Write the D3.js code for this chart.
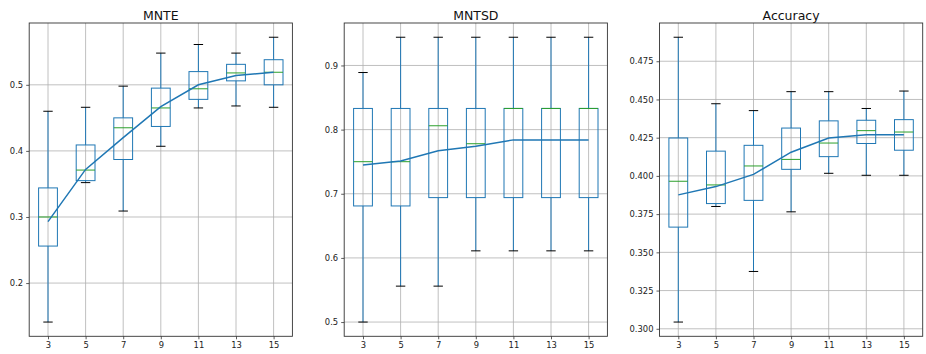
<!DOCTYPE html>
<html>
<head>
<meta charset="utf-8">
<script src="https://cdn.jsdelivr.net/npm/d3@7"></script>
<style>
  html, body { margin: 0; padding: 0; background: #fff; }
  svg { display: block; font-family: "DejaVu Sans", sans-serif; }
</style>
</head>
<body>
<svg id="chart" width="926" height="354"></svg>
<script>
// Window sizes shared by every panel
const categories = [3, 5, 7, 9, 11, 13, 15];

// MNTE box statistics per window size
const mnteWhiskerHigh = [0.460, 0.466, 0.498, 0.548, 0.561, 0.548, 0.572];
const mnteQ3          = [0.344, 0.409, 0.450, 0.495, 0.520, 0.531, 0.538];
const mnteMedian      = [0.300, 0.371, 0.435, 0.465, 0.494, 0.518, 0.519];
const mnteQ1          = [0.256, 0.355, 0.387, 0.437, 0.478, 0.506, 0.500];
const mnteWhiskerLow  = [0.141, 0.352, 0.309, 0.407, 0.465, 0.468, 0.466];
const mnteMean        = [0.293, 0.372, 0.420, 0.467, 0.500, 0.514, 0.519];
const mnteTicks       = [0.2, 0.3, 0.4, 0.5];

// MNTSD box statistics per window size
const mntsdWhiskerHigh = [0.889, 0.944, 0.944, 0.944, 0.944, 0.944, 0.944];
const mntsdQ3          = [0.833, 0.833, 0.833, 0.833, 0.833, 0.833, 0.833];
const mntsdMedian      = [0.750, 0.750, 0.806, 0.778, 0.833, 0.833, 0.833];
const mntsdQ1          = [0.681, 0.681, 0.694, 0.694, 0.694, 0.694, 0.694];
const mntsdWhiskerLow  = [0.500, 0.556, 0.556, 0.611, 0.611, 0.611, 0.611];
const mntsdMean        = [0.745, 0.751, 0.767, 0.774, 0.784, 0.784, 0.784];
const mntsdTicks       = [0.5, 0.6, 0.7, 0.8, 0.9];

// Accuracy box statistics per window size
const accWhiskerHigh = [0.4907, 0.4472, 0.4427, 0.4551, 0.4551, 0.4441, 0.4555];
const accQ3          = [0.4248, 0.4162, 0.4200, 0.4313, 0.4360, 0.4364, 0.4368];
const accMedian      = [0.3965, 0.3941, 0.4065, 0.4108, 0.4215, 0.4296, 0.4287];
const accQ1          = [0.3665, 0.3819, 0.3840, 0.4043, 0.4126, 0.4212, 0.4168];
const accWhiskerLow  = [0.3044, 0.3800, 0.3375, 0.3765, 0.4017, 0.4004, 0.4004];
const accMean        = [0.3876, 0.3930, 0.4010, 0.4155, 0.4248, 0.4269, 0.4269];
const accTicks       = [0.300, 0.325, 0.350, 0.375, 0.400, 0.425, 0.450, 0.475];

const panels = [
  { title: "MNTE", hi: mnteWhiskerHigh, q3: mnteQ3, med: mnteMedian, q1: mnteQ1, lo: mnteWhiskerLow, mean: mnteMean, ticks: mnteTicks, fmt: ".1f", left: 29.2 },
  { title: "MNTSD", hi: mntsdWhiskerHigh, q3: mntsdQ3, med: mntsdMedian, q1: mntsdQ1, lo: mntsdWhiskerLow, mean: mntsdMean, ticks: mntsdTicks, fmt: ".1f", left: 344.2 },
  { title: "Accuracy", hi: accWhiskerHigh, q3: accQ3, med: accMedian, q1: accQ1, lo: accWhiskerLow, mean: accMean, ticks: accTicks, fmt: ".3f", left: 659.5 }
];

const axW = 263.2, axTop = 23, axBottom = 336.3;
const blue = "#1f77b4", green = "#2ca02c", gridColor = "#b0b0b0", spine = "#333";
const tickFont = 8.4;

const svg = d3.select("#chart");

panels.forEach(p => {
  const x = d3.scalePoint().domain(categories).range([p.left, p.left + axW]).padding(0.5);
  const step = x.step();
  const boxW = step * 0.5, capW = boxW * 0.5;

  // y-limits padded by 5% of the data span
  const lo = d3.min([...p.lo, ...p.mean]), hi = d3.max([...p.hi, ...p.mean]);
  const pad = (hi - lo) * 0.05;
  const y = d3.scaleLinear().domain([lo - pad, hi + pad]).range([axBottom, axTop]);

  const g = svg.append("g");

  // grid
  g.append("g").selectAll("line").data(p.ticks).join("line")
    .attr("x1", p.left).attr("x2", p.left + axW)
    .attr("y1", d => y(d)).attr("y2", d => y(d))
    .attr("stroke", gridColor).attr("stroke-width", 0.8);
  g.append("g").selectAll("line").data(categories).join("line")
    .attr("x1", d => x(d)).attr("x2", d => x(d))
    .attr("y1", axTop).attr("y2", axBottom)
    .attr("stroke", gridColor).attr("stroke-width", 0.8);

  const idx = d3.range(categories.length);
  const boxes = g.append("g").selectAll("g").data(idx).join("g");

  // whiskers
  boxes.append("line")
    .attr("x1", i => x(categories[i])).attr("x2", i => x(categories[i]))
    .attr("y1", i => y(p.q3[i])).attr("y2", i => y(p.hi[i]))
    .attr("stroke", blue).attr("stroke-width", 1);
  boxes.append("line")
    .attr("x1", i => x(categories[i])).attr("x2", i => x(categories[i]))
    .attr("y1", i => y(p.q1[i])).attr("y2", i => y(p.lo[i]))
    .attr("stroke", blue).attr("stroke-width", 1);
  // caps
  boxes.append("line")
    .attr("x1", i => x(categories[i]) - capW / 2).attr("x2", i => x(categories[i]) + capW / 2)
    .attr("y1", i => y(p.hi[i])).attr("y2", i => y(p.hi[i]))
    .attr("stroke", "#000").attr("stroke-width", 1);
  boxes.append("line")
    .attr("x1", i => x(categories[i]) - capW / 2).attr("x2", i => x(categories[i]) + capW / 2)
    .attr("y1", i => y(p.lo[i])).attr("y2", i => y(p.lo[i]))
    .attr("stroke", "#000").attr("stroke-width", 1);
  // boxes
  boxes.append("rect")
    .attr("x", i => x(categories[i]) - boxW / 2).attr("width", boxW)
    .attr("y", i => y(p.q3[i])).attr("height", i => y(p.q1[i]) - y(p.q3[i]))
    .attr("fill", "none").attr("stroke", blue).attr("stroke-width", 1);
  // medians
  boxes.append("line")
    .attr("x1", i => x(categories[i]) - boxW / 2).attr("x2", i => x(categories[i]) + boxW / 2)
    .attr("y1", i => y(p.med[i])).attr("y2", i => y(p.med[i]))
    .attr("stroke", green).attr("stroke-width", 1);

  // mean line
  g.append("path")
    .datum(idx)
    .attr("d", d3.line().x(i => x(categories[i])).y(i => y(p.mean[i])))
    .attr("fill", "none").attr("stroke", blue).attr("stroke-width", 1.5);

  // axes
  const xAxis = g.append("g").attr("transform", `translate(0,${axBottom})`)
    .call(d3.axisBottom(x).tickSize(3).tickPadding(3).tickSizeOuter(0));
  const yAxis = g.append("g").attr("transform", `translate(${p.left},0)`)
    .call(d3.axisLeft(y).tickValues(p.ticks).tickFormat(d3.format(p.fmt)).tickSize(3).tickPadding(3).tickSizeOuter(0));
  [xAxis, yAxis].forEach(a => {
    a.select(".domain").remove();
    a.selectAll(".tick line").attr("stroke", spine).attr("stroke-width", 0.8);
    a.selectAll(".tick text").attr("fill", "#222").style("font-size", tickFont + "px")
      .style("font-family", '"DejaVu Sans", sans-serif');
  });

  // frame
  g.append("rect")
    .attr("x", p.left).attr("y", axTop).attr("width", axW).attr("height", axBottom - axTop)
    .attr("fill", "none").attr("stroke", spine).attr("stroke-width", 0.9);

  // title
  g.append("text")
    .attr("x", p.left + axW / 2).attr("y", 19.5)
    .attr("text-anchor", "middle")
    .style("font-size", "12.5px").attr("fill", "#111")
    .text(p.title);
});
</script>
</body>
</html>
